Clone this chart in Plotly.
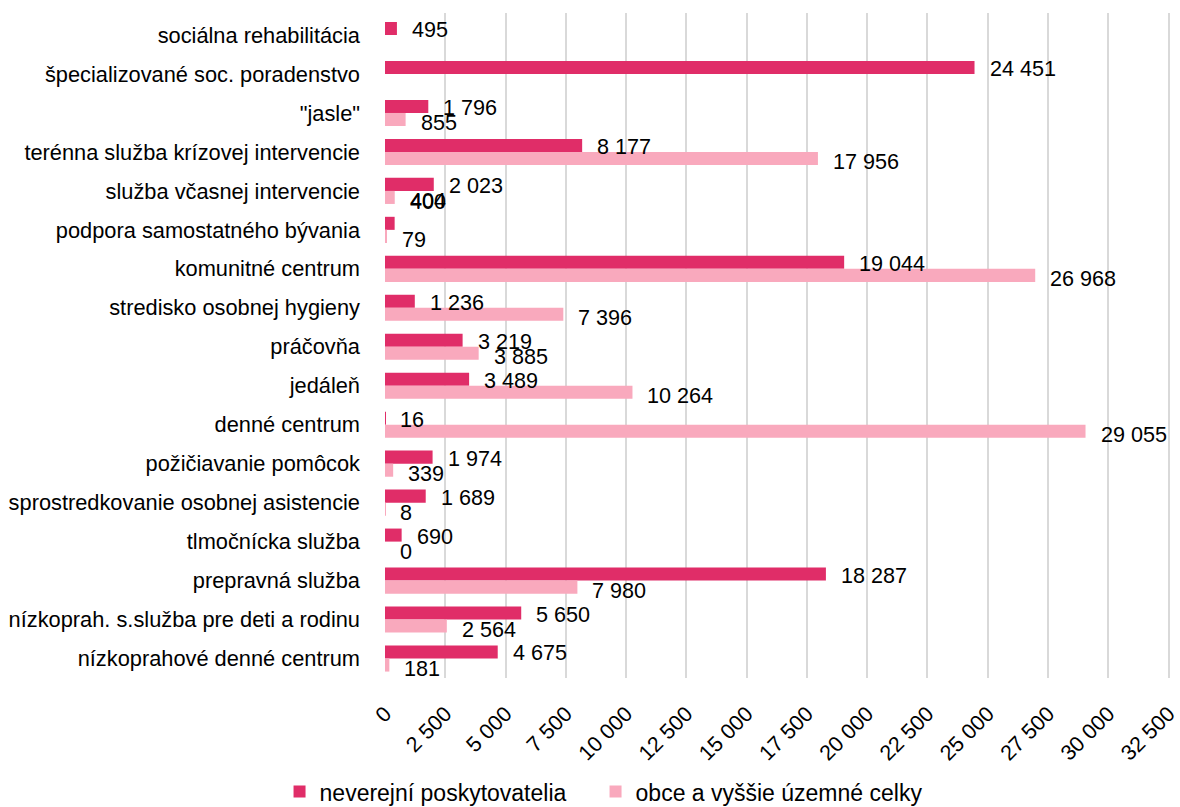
import plotly.graph_objects as go

# Services, listed top to bottom
categories = [
    "sociálna rehabilitácia",
    "špecializované soc. poradenstvo",
    "\"jasle\"",
    "terénna služba krízovej intervencie",
    "služba včasnej intervencie",
    "podpora samostatného bývania",
    "komunitné centrum",
    "stredisko osobnej hygieny",
    "práčovňa",
    "jedáleň",
    "denné centrum",
    "požičiavanie pomôcok",
    "sprostredkovanie osobnej asistencie",
    "tlmočnícka služba",
    "prepravná služba",
    "nízkoprah. s.služba pre deti a rodinu",
    "nízkoprahové denné centrum",
]

neverejni = [495, 24451, 1796, 8177, 2023, 400, 19044, 1236, 3219, 3489,
             16, 1974, 1689, 690, 18287, 5650, 4675]
obce = [None, None, 855, 17956, 404, 79, 26968, 7396, 3885, 10264,
        29055, 339, 8, 0, 7980, 2564, 181]

tick_values = list(range(0, 32501, 2500))

series_names = ["neverejní poskytovatelia", "obce a vyššie územné celky"]
colors = ["#E02D68", "#F9A9BD"]

FONT = "Liberation Sans, Arial, sans-serif"

fig = go.Figure()
for name, vals, col, lg in zip(series_names, [neverejni, obce], colors,
                               ["legend", "legend2"]):
    fig.add_trace(go.Bar(
        y=categories, x=vals, name=name, orientation="h",
        marker=dict(color=col, line=dict(width=0)), legend=lg,
        showlegend=True,
    ))


def fmt(v):
    return f"{v:,}".replace(",", " ")


BAR_OFF = 0.1675
LABEL_FONT = dict(size=21.6, color="#000", family=FONT)
annotations = []
for i, (a, b) in enumerate(zip(neverejni, obce)):
    # label for the first series; one label sits higher than its bar
    ys = -1
    if categories[i] == "podpora samostatného bývania":
        ys = 22
    annotations.append(dict(
        x=a, y=i - BAR_OFF, xref="x", yref="y", text=fmt(a),
        showarrow=False, xanchor="left", yanchor="middle",
        xshift=13, yshift=ys, font=LABEL_FONT,
    ))
    if b is not None:
        annotations.append(dict(
            x=b, y=i + BAR_OFF, xref="x", yref="y", text=fmt(b),
            showarrow=False, xanchor="left", yanchor="middle",
            xshift=13, yshift=-3, font=LABEL_FONT,
        ))

legend_common = dict(
    orientation="h", xanchor="left", xref="container",
    yref="container", y=0.019, yanchor="middle",
    font=dict(size=23, color="#000", family=FONT),
    bgcolor="rgba(0,0,0,0)",
)

fig.update_layout(
    width=1180, height=807,
    margin=dict(l=385, r=9, t=13, b=129, autoexpand=False),
    paper_bgcolor="white", plot_bgcolor="white",
    barmode="group", bargap=0.33, bargroupgap=0,
    separators=", ",
    showlegend=True,
    font=dict(family=FONT, size=21.6, color="#000"),
    annotations=annotations,
    legend=dict(x=0.2369, **legend_common),
    legend2=dict(x=0.5047, **legend_common),
    xaxis=dict(
        range=[0, 32600], tickvals=tick_values, tickformat=",",
        tickangle=-45, showgrid=True, gridcolor="#D9D9D9", gridwidth=2,
        zeroline=False, showline=False, ticks="", automargin=False,
        ticklabelstandoff=18,
        tickfont=dict(size=21.5, color="#000", family=FONT),
    ),
    yaxis=dict(
        autorange="reversed", showgrid=False, showline=False, ticks="",
        automargin=False, ticklabelstandoff=24,
        tickfont=dict(size=21.8, color="#000", family=FONT),
    ),
)

fig.write_html("out.html")
